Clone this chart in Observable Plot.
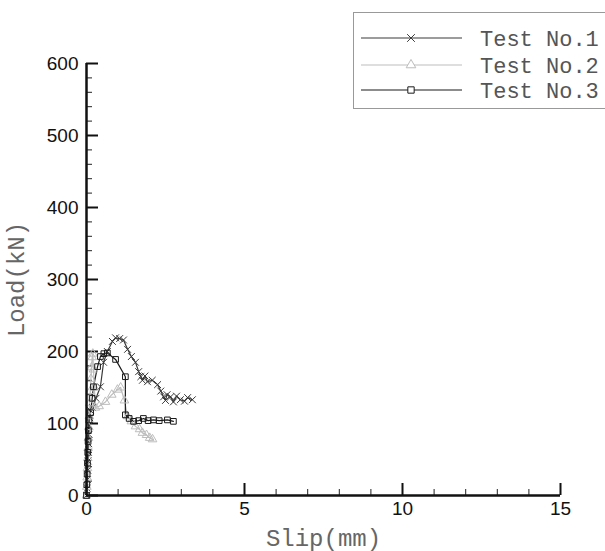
<!DOCTYPE html>
<html>
<head>
<meta charset="utf-8">
<script src="https://cdn.jsdelivr.net/npm/d3@7"></script>
<script src="https://cdn.jsdelivr.net/npm/@observablehq/plot@0.6"></script>
<style>
  html, body { margin: 0; padding: 0; background: #fff; }
  #wrap { position: relative; width: 605px; height: 551px; overflow: hidden; }
</style>
</head>
<body>
<div id="wrap"></div>
<script>
// ---- data ----
const seriesNames = ["Test No.1", "Test No.2", "Test No.3"];
const seriesColors = ["#3a3a3a", "#bdbdbd", "#1a1a1a"];
const seriesSymbols = ["times", "triangle", "square"];

const test1Slip = [0, 0.02, 0.03, 0.04, 0.05, 0.06, 0.07, 0.08, 0.09, 0.10, 0.13, 0.19, 0.30, 0.44, 0.54, 0.66, 0.82, 0.92, 1.05, 1.17, 1.30, 1.42, 1.55, 1.65, 1.72, 1.77, 1.85, 1.93, 2.08, 2.25, 2.35, 2.44, 2.50, 2.55, 2.66, 2.75, 2.85, 2.97, 3.10, 3.20, 3.35];
const test1Load = [0, 10, 22, 35, 48, 60, 72, 85, 97, 108, 118, 122, 135, 151, 185, 200, 214, 219, 218, 216, 203, 193, 185, 172, 165, 160, 166, 158, 160, 154, 145, 137, 132, 140, 137, 130, 138, 133, 131, 136, 133];

const test2Slip = [0, 0.01, 0.02, 0.03, 0.04, 0.05, 0.06, 0.07, 0.09, 0.10, 0.12, 0.14, 0.16, 0.18, 0.20, 0.22, 0.25, 0.28, 0.40, 0.60, 0.80, 0.98, 1.08, 1.20, 1.30, 1.42, 1.55, 1.68, 1.77, 1.90, 2.00, 2.09];
const test2Load = [0, 12, 25, 38, 52, 66, 80, 95, 110, 128, 145, 162, 178, 192, 197, 175, 150, 122, 124, 130, 140, 147, 150, 132, 110, 103, 96, 92, 87, 84, 80, 78];

const test3Slip = [0, 0.01, 0.02, 0.03, 0.04, 0.05, 0.06, 0.08, 0.13, 0.18, 0.22, 0.35, 0.44, 0.55, 0.66, 0.92, 1.23, 1.23, 1.35, 1.49, 1.65, 1.80, 1.95, 2.12, 2.30, 2.56, 2.75];
const test3Load = [0, 15, 30, 45, 60, 75, 90, 105, 115, 135, 151, 179, 193, 197, 198, 189, 165, 112, 107, 103, 104, 107, 104, 105, 104, 105, 103];

const xMajorTicks = [0, 5, 10, 15];
const xMinorTicks = d3.range(0, 16, 1);
const yMajorTicks = [0, 100, 200, 300, 400, 500, 600];
const yMinorTicks = d3.range(0, 601, 20);

// ---- build table ----
const slips = [test1Slip, test2Slip, test3Slip];
const loads = [test1Load, test2Load, test3Load];
const rows = [];
seriesNames.forEach((name, i) => {
  slips[i].forEach((s, j) => rows.push({series: name, slip: s, load: loads[i][j]}));
});

const tickFont = "'Liberation Sans', Arial, sans-serif";
const monoFont = "'Courier New', 'Liberation Mono', monospace";

const chart = Plot.plot({
  width: 605,
  height: 551,
  marginLeft: 86,
  marginRight: 45,
  marginTop: 63,
  marginBottom: 56,
  style: {background: "#fff", color: "#111"},
  x: {domain: [0, 15], axis: null},
  y: {domain: [0, 600], axis: null},
  color: {domain: seriesNames, range: seriesColors},
  symbol: {domain: seriesNames, range: seriesSymbols},
  marks: [
    // minor & major ticks pointing inward
    Plot.axisX(xMinorTicks, {anchor: "bottom", tickSize: -6, text: null, label: null, stroke: "#222", strokeWidth: 1}),
    Plot.axisX(xMajorTicks, {anchor: "bottom", tickSize: -12, text: null, label: null, stroke: "#111", strokeWidth: 2}),
    Plot.axisX(xMajorTicks, {anchor: "bottom", tickSize: 0, tickPadding: 6, label: null, fontSize: 19, fontFamily: tickFont, fill: "#111"}),
    Plot.axisY(yMinorTicks, {anchor: "left", tickSize: -6, text: null, label: null, stroke: "#222", strokeWidth: 1}),
    Plot.axisY(yMajorTicks, {anchor: "left", tickSize: -12, text: null, label: null, stroke: "#111", strokeWidth: 2}),
    Plot.axisY(yMajorTicks, {anchor: "left", tickSize: 0, tickPadding: 8, label: null, fontSize: 19, fontFamily: tickFont, fill: "#111"}),
    // axis titles
    Plot.axisX([], {anchor: "bottom", tickSize: 0, label: "Slip(mm)", labelAnchor: "center", labelArrow: false, labelOffset: 50, fontSize: 24, fontFamily: monoFont, fill: "#666"}),
    Plot.axisY([], {anchor: "left", tickSize: 0, label: "Load(kN)", labelAnchor: "center", labelArrow: false, labelOffset: 80, fontSize: 24, fontFamily: monoFont, fill: "#666"}),
    // data
    Plot.line(rows, {x: "slip", y: "load", z: "series", stroke: "series", strokeWidth: 1.2}),
    Plot.dot(rows, {x: "slip", y: "load", stroke: "series", symbol: "series", r: 3.2, strokeWidth: 1}),
    // axis lines
    Plot.ruleX([0], {stroke: "#111", strokeWidth: 2.5}),
    Plot.ruleY([0], {stroke: "#111", strokeWidth: 2.5})
  ]
});

const wrap = document.getElementById("wrap");
wrap.appendChild(chart);

// ---- legend (inside the plot area, top right) ----
const lg = d3.create("svg").attr("width", 605).attr("height", 120)
  .style("position", "absolute").style("left", "0px").style("top", "0px");
lg.append("rect").attr("x", 353.5).attr("y", 12.5).attr("width", 270).attr("height", 96)
  .attr("fill", "#fff").attr("stroke", "#999").attr("stroke-width", 1);
const rowY = [38, 65, 90];
const symMap = {times: d3.symbolTimes, triangle: d3.symbolTriangle, square: d3.symbolSquare};
seriesNames.forEach((name, i) => {
  const g = lg.append("g");
  g.append("line").attr("x1", 361).attr("x2", 462).attr("y1", rowY[i]).attr("y2", rowY[i])
    .attr("stroke", seriesColors[i]).attr("stroke-width", 1.2);
  g.append("path").attr("d", d3.symbol(symMap[seriesSymbols[i]], 40)())
    .attr("transform", `translate(411,${rowY[i]})`)
    .attr("fill", "#fff").attr("stroke", seriesColors[i]).attr("stroke-width", 1);
  g.append("text").attr("x", 480).attr("y", rowY[i]).attr("dy", "0.35em")
    .attr("font-family", monoFont).attr("font-size", 22).attr("fill", "#555").text(name);
});
wrap.appendChild(lg.node());
</script>
</body>
</html>
